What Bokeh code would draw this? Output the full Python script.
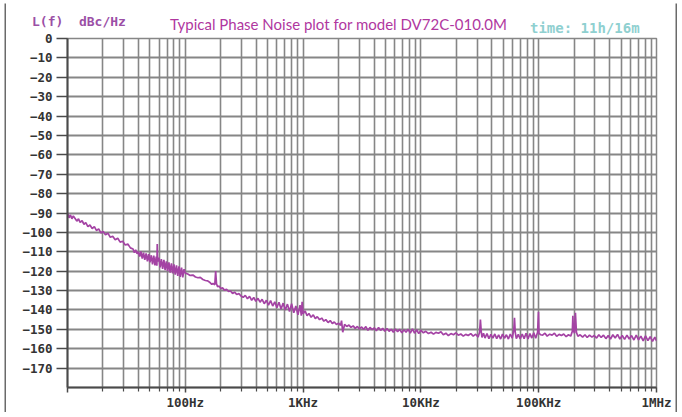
from bokeh.plotting import figure
from bokeh.models import FixedTicker, Spacer, Div
from bokeh.layouts import column, row
from bokeh.embed import file_html
from bokeh.resources import INLINE

# ---- trace data (offset frequency in Hz, L(f) in dBc/Hz) ----
freq_10_100 = [10, 10.3, 10.6, 10.9, 11.2, 11.6, 12.0, 12.4, 12.8, 13.3, 13.8, 14.3, 14.9,
               15.5, 16.2, 16.9, 17.6, 18.4, 19.2, 20.1, 21.0, 22.0, 23.1, 24.2, 25.4, 26.7,
               28.0, 29.4, 30.9, 32.5, 34.2, 36.0, 37.0, 37.9, 39.0, 39.9, 41.0, 42.0, 43.1,
               44.2, 45.3, 46.5, 47.7, 48.9, 50.1, 51.4, 52.7, 54.0, 55.3, 56.7, 57.4, 57.8,
               58.3, 59.6, 61.1, 62.6, 64.2, 65.8, 67.4, 69.1, 70.8, 72.6, 74.4, 76.3, 78.2,
               80.1, 82.1, 84.2, 86.3, 88.4, 90.6, 92.9, 95.2, 97.6, 100]
level_10_100 = [-90.0, -92.5, -91.0, -93.0, -91.5, -92.8, -94.2, -93.0, -94.8, -94.0, -95.8,
                -95.0, -97.0, -96.2, -98.0, -97.0, -99.0, -98.2, -100.3, -99.5, -101.2, -100.4,
                -102.5, -102.0, -103.8, -103.0, -105.0, -104.6, -106.5, -106.0, -108.0, -108.6,
                -110.5, -109.0, -111.0, -110.0, -112.5, -109.8, -113.5, -110.5, -114.2, -110.8,
                -115.0, -111.2, -115.5, -111.8, -116.5, -112.0, -117.0, -112.5, -117.2, -106.0,
                -115.0, -113.0, -118.0, -113.8, -118.8, -114.2, -119.5, -115.0, -120.0, -115.5,
                -120.8, -116.0, -121.2, -116.5, -121.8, -117.0, -122.5, -117.5, -123.0, -118.2,
                -123.2, -119.0, -121.0]

freq_100_1k = [105, 110, 116, 122, 128, 134, 141, 148, 155, 163, 168, 172, 178, 181, 184,
               188, 194, 200, 207, 215, 224, 233, 242, 252, 262, 273, 285, 297, 310, 323, 337,
               351, 366, 381, 397, 414, 431, 449, 468, 488, 508, 530, 552, 575, 599, 624, 650,
               677, 706, 736, 767, 799, 833, 868, 904, 942, 966, 981, 1000]
level_100_1k = [-121.5, -122.2, -122.0, -123.0, -123.4, -123.2, -124.3, -124.8, -125.0, -126.0,
                -126.8, -126.3, -127.0, -120.0, -126.5, -128.0, -127.7, -129.0, -128.6, -129.8,
                -129.4, -130.5, -130.2, -131.5, -130.8, -132.0, -131.6, -132.8, -133.5, -132.5,
                -134.2, -133.0, -135.0, -133.6, -135.5, -134.0, -136.0, -134.5, -136.8, -135.0,
                -137.5, -135.2, -138.0, -135.8, -138.8, -136.0, -139.5, -136.5, -140.0, -137.0,
                -140.8, -136.8, -141.5, -138.0, -142.5, -137.5, -143.0, -135.8, -142.0]

freq_1k_10k = [1040, 1080, 1120, 1170, 1220, 1270, 1320, 1380, 1440, 1500, 1560, 1630, 1700,
               1770, 1840, 1920, 2000, 2080, 2120, 2170, 2250, 2350, 2450, 2550, 2660, 2770,
               2890, 3010, 3140, 3270, 3410, 3550, 3700, 3860, 4020, 4190, 4370, 4550, 4740,
               4940, 5150, 5370, 5600, 5840, 6080, 6340, 6610, 6890, 7180, 7480, 7800, 8130,
               8470, 8830, 9200, 9590, 10000]
level_1k_10k = [-140.5, -143.0, -141.8, -143.8, -142.5, -144.5, -143.5, -145.0, -144.2, -145.8,
                -145.0, -146.5, -145.5, -147.0, -146.2, -147.5, -146.8, -148.0, -145.5, -151.5,
                -147.5, -148.5, -147.8, -149.0, -148.2, -149.5, -148.5, -149.8, -148.8, -150.0,
                -148.6, -150.5, -149.0, -150.2, -149.2, -150.8, -149.0, -150.5, -149.5, -151.0,
                -149.6, -151.0, -150.0, -151.5, -149.8, -151.2, -150.0, -151.8, -150.2, -151.5,
                -150.0, -152.0, -149.8, -152.0, -150.2, -152.2, -150.5]

freq_10k_100k = [10500, 11000, 11600, 12200, 12800, 13400, 14100, 14800, 15500, 16300, 17100,
                 18000, 18900, 19800, 20800, 21800, 22900, 24000, 25200, 26500, 27800, 29200,
                 30600, 31500, 32000, 32500, 33000, 34000, 35000, 36400, 37800, 39300, 40800,
                 42400, 44000, 45700, 47500, 49300, 51200, 53200, 55300, 57400, 59600, 61500,
                 62300, 63200, 64600, 67100, 69700, 72400, 75200, 78100, 81100, 84200, 87400,
                 90800, 94300, 97900, 99600, 100500]
level_10k_100k = [-151.8, -151.0, -152.2, -151.5, -152.5, -151.6, -152.0, -151.2, -152.8, -152.0,
                  -153.2, -152.2, -152.8, -151.8, -153.0, -152.4, -153.5, -152.6, -153.2, -152.2,
                  -153.5, -152.5, -154.0, -151.5, -145.0, -151.0, -154.2, -152.0, -154.5, -152.2,
                  -154.8, -152.6, -154.5, -152.4, -154.8, -152.8, -155.0, -152.5, -154.6, -152.8,
                  -155.0, -152.4, -154.6, -150.0, -144.0, -151.5, -154.8, -152.6, -155.0, -152.4,
                  -154.8, -152.0, -155.0, -152.2, -154.5, -151.8, -154.6, -151.5, -141.0, -152.0]

freq_100k_1m = [104000, 108000, 113000, 118000, 124000, 130000, 136000, 142000, 149000, 156000,
                163000, 171000, 179000, 187000, 193000, 195000, 197000, 201000, 205000, 209000,
                215000, 225000, 236000, 247000, 258000, 270000, 283000, 296000, 310000, 324000,
                339000, 355000, 372000, 389000, 407000, 426000, 446000, 467000, 489000, 512000,
                536000, 561000, 587000, 614000, 643000, 673000, 704000, 737000, 771000, 807000,
                845000, 884000, 925000, 968000, 1000000]
level_100k_1m = [-152.8, -153.0, -152.0, -153.5, -152.5, -153.0, -152.0, -153.6, -152.6, -153.2,
                 -152.4, -153.8, -152.8, -153.5, -151.0, -143.0, -150.5, -152.0, -141.5, -151.5,
                 -153.6, -152.8, -154.0, -152.8, -154.2, -153.0, -154.0, -153.2, -154.5, -152.8,
                 -154.2, -153.0, -154.8, -153.2, -155.0, -152.8, -154.5, -152.6, -155.0, -153.2,
                 -155.2, -153.0, -155.0, -153.2, -155.5, -153.0, -155.4, -153.5, -156.0, -153.4,
                 -155.8, -153.8, -156.2, -154.0, -156.0]

freq_hz = freq_10_100 + freq_100_1k + freq_1k_10k + freq_10k_100k + freq_100k_1m
level_dbc = level_10_100 + level_100_1k + level_1k_10k + level_10k_100k + level_100k_1m

# ---- axes / texts ----
x_major_ticks = [10, 100, 1000, 10000, 100000, 1000000]
x_tick_labels = ["", "100Hz", "1KHz", "10KHz", "100KHz", "1MHz"]
x_minor_ticks = [m * d for d in x_major_ticks[:-1] for m in range(2, 10)]
y_ticks = list(range(-170, 1, 10))
title_text = "Typical Phase Noise plot for model DV72C-010.0M"
ylabel_text = "L(f)&nbsp;&nbsp;dBc/Hz"
time_text = "time: 11h/16m"

GRID = "#868686"
AXIS = "#4a4a4a"
FRAME = "#6a6a6a"
MONO = "DejaVu Sans Mono"

INNER_W = 669
HEAD_H = 27
MAIN_H = 382


def bar(w, h):
    b = figure(width=w, height=h, output_backend="svg", toolbar_location=None,
               x_axis_location=None, y_axis_location=None, min_border=0)
    b.background_fill_color = FRAME
    b.border_fill_color = FRAME
    b.outline_line_color = None
    b.xgrid.visible = False
    b.ygrid.visible = False
    return b


def span(text, left, top, font, size, weight, color):
    return (f'<span style="position:absolute;left:{left}px;top:{top}px;white-space:nowrap;'
            f"font-family:'{font}';font-size:{size}px;font-weight:{weight};line-height:1;"
            f'color:{color};">{text}</span>')


# ---- header texts (HTML, pixel positions inside the header box) ----
head_html = ('<div style="position:relative;width:%dpx;height:%dpx;overflow:visible;">' % (INNER_W, HEAD_H)
             + span(ylabel_text, 26, 12, MONO, 13, "bold", "#9b4fa6")
             + span(title_text, 164, 14, "Lato", 15, "normal", "#b0379f")
             + span(time_text, 524, 18, MONO, 14, "bold", "#8fd0d0")
             + "</div>")
head = Div(text=head_html, width=INNER_W, height=HEAD_H, margin=(0, 0, 0, 0),
           styles={"overflow": "visible"})

# ---- main plot ----
p = figure(width=INNER_W, height=MAIN_H, x_axis_type="log", x_range=(10, 1e6), y_range=(-180, 0),
           output_backend="svg", toolbar_location=None,
           min_border_left=61, min_border_right=19, min_border_top=8, min_border_bottom=22)
p.background_fill_color = "white"
p.border_fill_color = "white"
p.border_fill_alpha = 0.0
p.outline_line_color = GRID
p.outline_line_width = 1.5

xt = FixedTicker(ticks=x_major_ticks, minor_ticks=x_minor_ticks)
yt = FixedTicker(ticks=y_ticks, minor_ticks=[])
p.xaxis.ticker = xt
p.yaxis.ticker = yt
p.xgrid.ticker = xt
p.ygrid.ticker = yt

p.xaxis.major_label_overrides = {t: lab for t, lab in zip(x_major_ticks, x_tick_labels)}

p.xgrid.grid_line_color = GRID
p.xgrid.grid_line_width = 1.6
p.xgrid.minor_grid_line_color = GRID
p.xgrid.minor_grid_line_width = 1.6
p.ygrid.grid_line_color = GRID
p.ygrid.grid_line_width = 2

for ax in (p.xaxis[0], p.yaxis[0]):
    ax.axis_line_color = AXIS
    ax.axis_line_width = 2
    ax.major_tick_line_color = AXIS
    ax.major_tick_line_width = 1.5
    ax.minor_tick_line_color = AXIS
    ax.minor_tick_line_width = 1.2
    ax.major_tick_in = 0
    ax.minor_tick_in = 0
    ax.major_label_text_font = MONO
    ax.major_label_text_font_style = "bold"
    ax.major_label_text_font_size = "12.5px"
    ax.major_label_text_color = "#333333"

p.xaxis.major_tick_out = 5
p.xaxis.minor_tick_out = 4
p.xaxis.major_label_standoff = 2
p.yaxis.major_tick_out = 11
p.yaxis.minor_tick_out = 0
p.yaxis.major_label_standoff = 4

p.line(freq_hz, level_dbc, line_color="#a443a4", line_width=1.7)

inner = column(head, p, spacing=0)
framed = column(
    Spacer(width=10, height=1),
    row(Spacer(width=4, height=2), bar(INNER_W + 4, 2), spacing=0),
    row(Spacer(width=4, height=HEAD_H + MAIN_H), bar(2, HEAD_H + MAIN_H), inner,
        bar(2, HEAD_H + MAIN_H), spacing=0),
    row(Spacer(width=4, height=2), bar(INNER_W + 4, 2), spacing=0),
    spacing=0,
)

open("out.html", "w").write(file_html(framed, INLINE))
